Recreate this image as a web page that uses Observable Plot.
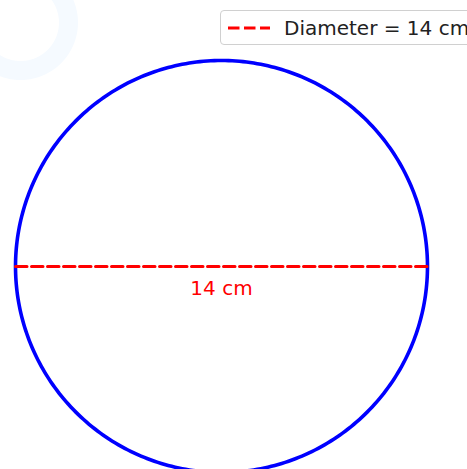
<!DOCTYPE html>
<html>
<head>
<meta charset="utf-8">
<script src="https://cdn.jsdelivr.net/npm/d3@7"></script>
<script src="https://cdn.jsdelivr.net/npm/@observablehq/plot@0.6"></script>
<style>
  html, body { margin: 0; padding: 0; background: #fff; }
  #wrap { position: relative; width: 467px; height: 469px; overflow: hidden; font-family: "DejaVu Sans", sans-serif; }
  #legend { position: absolute; left: 220px; top: 10px; width: 280px; height: 35px; box-sizing: border-box;
            border: 1px solid #d0d0d0; border-radius: 4px; background: rgba(255,255,255,0.8);
            display: flex; align-items: center; font-size: 20px; color: #222; }
  #legend svg { margin-left: 7px; margin-right: 14px; }
</style>
</head>
<body>
<div id="wrap"><div id="chart"></div><div id="legend"></div></div>
<script>
const diameter = 14;
const unit = "cm";
const center = [0, 0];
const radius = diameter / 2;
const labelText = `${diameter} ${unit}`;
const legendLabel = `Diameter = ${diameter} ${unit}`;
const watermark = [{x: -6.83, y: 8.29, r: 1.63}];

const nSeg = 360;
const circlePts = d3.range(nSeg).map(i => {
  const t = (i / nSeg) * 2 * Math.PI;
  return {x: center[0] + radius * Math.cos(t), y: center[1] + radius * Math.sin(t)};
});
const wmPts = d3.range(nSeg).map(i => {
  const t = (i / nSeg) * 2 * Math.PI;
  return {x: watermark[0].x + watermark[0].r * Math.cos(t), y: watermark[0].y + watermark[0].r * Math.sin(t)};
});
const diamLine = [{x: center[0] - radius, y: center[1]}, {x: center[0] + radius, y: center[1]}];

const chart = Plot.plot({
  width: 467,
  height: 469,
  margin: 0,
  x: {domain: [-7.51, 8.36], axis: null},
  y: {domain: [-6.90, 9.04], axis: null},
  style: {background: "white", fontFamily: "DejaVu Sans, sans-serif"},
  marks: [
    Plot.line(wmPts, {x: "x", y: "y", curve: "linear-closed", stroke: "#f5faff", strokeWidth: 19}),
    Plot.line(circlePts, {x: "x", y: "y", curve: "linear-closed", stroke: "#0000ff", strokeWidth: 3.6}),
    Plot.line(diamLine, {x: "x", y: "y", stroke: "#ff0000", strokeWidth: 3, strokeDasharray: "11.5,4.5"}),
    Plot.text([labelText], {x: () => center[0], y: () => center[1] - 0.76, text: d => d, fill: "#ff0000", fontSize: 20, textAnchor: "middle", lineAnchor: "middle"})
  ]
});
document.getElementById("chart").appendChild(chart);

const lg = document.getElementById("legend");
lg.innerHTML = `<svg width="42" height="10"><line x1="0" y1="5" x2="42" y2="5" stroke="#ff0000" stroke-width="3" stroke-dasharray="11.5,4.5"/></svg><span>${legendLabel}</span>`;
</script>
</body>
</html>
